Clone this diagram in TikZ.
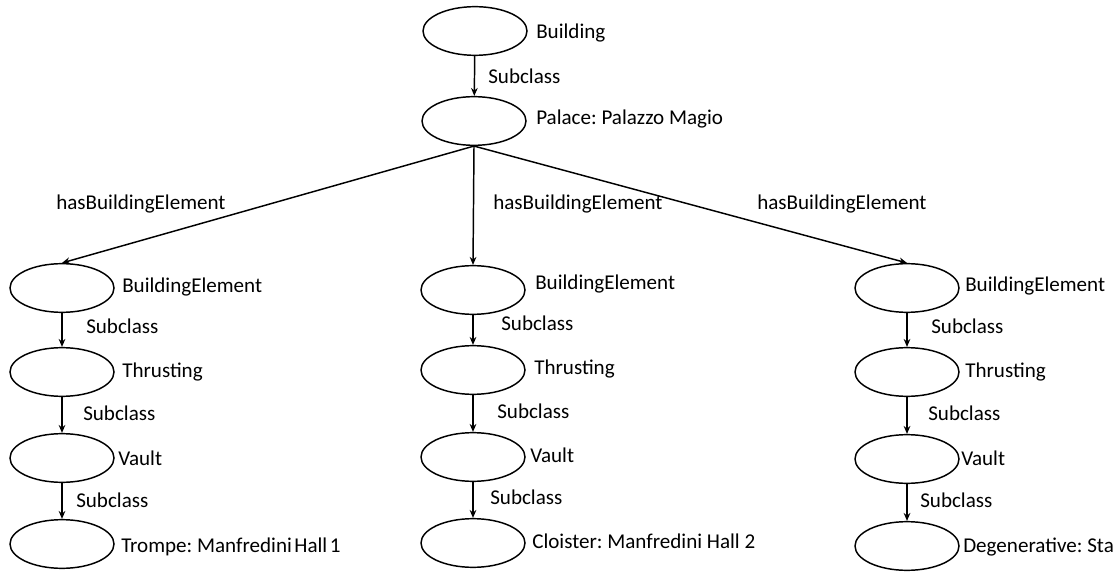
\documentclass[tikz,border=0pt]{standalone}
\usepackage{fontspec}
\setmainfont{Carlito}
\frenchspacing
\usetikzlibrary{arrows.meta,shapes.geometric}
\begin{document}
\begin{tikzpicture}[x=0.75pt,y=-0.75pt,
  ov/.style={draw,ellipse,line width=1.1pt,minimum width=78pt,minimum height=36.5pt,inner sep=0pt},
  lbl/.style={anchor=base west,inner sep=0pt,font=\fontsize{15.8}{18}\selectfont},
  conn/.style={line width=1.1pt,-{Stealth[length=6pt,width=5pt]}}]
\useasboundingbox (0,0) rectangle (1113,573);
% top
\node[ov] (bld) at (475,31) {};
\node[ov] (pal) at (474,121) {};
\node[lbl] (tbld) at (536,39) {Building};
\node[lbl] (tpal) at (536,125) {Palace: Palazzo Magio};
\draw[conn] (bld) -- (pal);
\node[lbl] (s0) at (488,84) {Subclass};
% columns
\node[ov] (l1) at (62,288) {};
\node[ov] (l2) at (62,372) {};
\node[ov] (l3) at (62,458) {};
\node[ov] (l4) at (62,544) {};
\node[ov] (m1) at (473,290) {};
\node[ov] (m2) at (473,370) {};
\node[ov] (m3) at (473,457) {};
\node[ov] (m4) at (473,543) {};
\node[ov] (r1) at (907,288) {};
\node[ov] (r2) at (907,372) {};
\node[ov] (r3) at (907,459) {};
\node[ov] (r4) at (907,546) {};
% connectors
\draw[conn] (pal.south) -- (l1.north);
\draw[conn] (pal.south) -- (m1.north);
\draw[conn] (pal.south) -- (r1.north);
\foreach \c in {l,m,r}{
  \draw[conn] (\c1) -- (\c2);
  \draw[conn] (\c2) -- (\c3);
  \draw[conn] (\c3) -- (\c4);
}
\node[lbl] (h1) at (56,210) {hasBuildingElement};
\node[lbl] (h2) at (493,210) {hasBuildingElement};
\node[lbl] (h3) at (757,210) {hasBuildingElement};
% left labels
\node[lbl] (tl1) at (122,293) {BuildingElement};
\node[lbl] (sl1) at (86,334) {Subclass};
\node[lbl] (tl2) at (122,378) {Thrusting};
\node[lbl] (sl2) at (83,420) {Subclass};
\node[lbl] (tl3) at (118,465) {Vault};
\node[lbl] (sl3) at (76,507) {Subclass};
\node[lbl] (tl4) at (121,552) {Trompe: Manfredini\hspace{0.12em}Hall\hspace{0.12em}1};
% middle labels
\node[lbl] (tm1) at (535,290) {BuildingElement};
\node[lbl] (sm1) at (501,331) {Subclass};
\node[lbl] (tm2) at (534,374) {Thrusting};
\node[lbl] (sm2) at (497,418) {Subclass};
\node[lbl] (tm3) at (530,462) {Vault};
\node[lbl] (sm3) at (490,504) {Subclass};
\node[lbl] (tm4) at (532,548) {Cloister: Manfredini Hall 2};
% right labels
\node[lbl] (tr1) at (965,292) {BuildingElement};
\node[lbl] (sr1) at (931,334) {Subclass};
\node[lbl] (tr2) at (965,378) {Thrusting};
\node[lbl] (sr2) at (928,420) {Subclass};
\node[lbl] (tr3) at (961,465) {Vault};
\node[lbl] (sr3) at (920,507) {Subclass};
\node[lbl] (tr4) at (963,552) {Degenerative: Sta};
\end{tikzpicture}
\end{document}
